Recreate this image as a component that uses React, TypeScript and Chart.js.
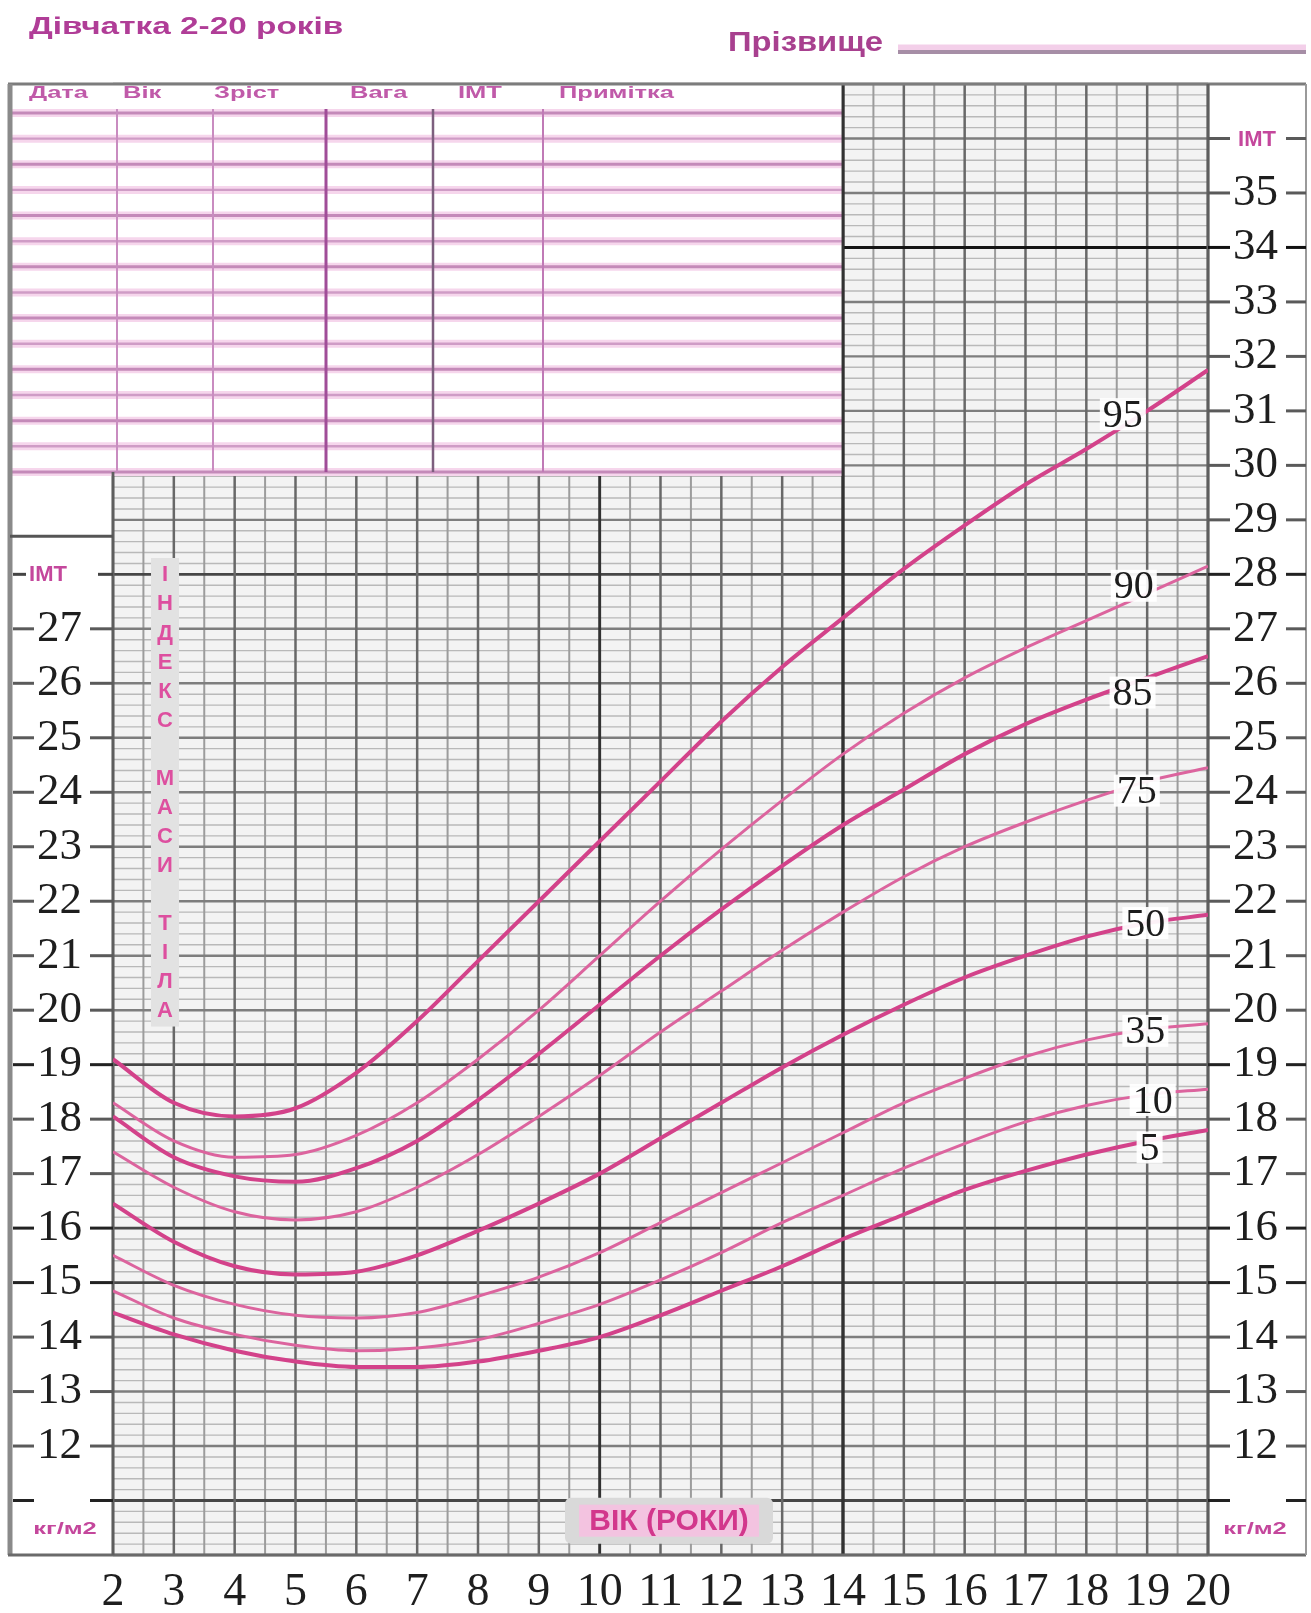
import React, { useEffect, useRef } from 'react';
import { Chart, registerables } from 'chart.js';

Chart.register(...registerables);

// ---------- data ----------
const AGES = [2, 3, 4, 5, 6, 7, 8, 9, 10, 11, 12, 13, 14, 15, 16, 17, 18, 19, 20];
const P95 = [19.1, 18.3, 18.05, 18.2, 18.85, 19.8, 20.9, 22.0, 23.1, 24.2, 25.3, 26.3, 27.2, 28.1, 28.9, 29.65, 30.3, 31.0, 31.75];
const P90 = [18.3, 17.6, 17.3, 17.35, 17.7, 18.3, 19.1, 20.0, 21.0, 22.0, 22.95, 23.85, 24.7, 25.45, 26.1, 26.65, 27.15, 27.65, 28.15];
const P85 = [18.05, 17.3, 16.95, 16.85, 17.1, 17.6, 18.35, 19.2, 20.1, 21.0, 21.85, 22.65, 23.4, 24.05, 24.7, 25.25, 25.7, 26.1, 26.5];
const P75 = [17.4, 16.75, 16.3, 16.15, 16.3, 16.75, 17.35, 18.05, 18.8, 19.6, 20.35, 21.1, 21.8, 22.45, 23.0, 23.45, 23.85, 24.2, 24.45];
const P50 = [16.45, 15.75, 15.3, 15.15, 15.2, 15.5, 15.95, 16.45, 17.0, 17.65, 18.3, 18.95, 19.55, 20.1, 20.6, 21.0, 21.35, 21.6, 21.75];
const P25 = [15.5, 14.95, 14.6, 14.4, 14.35, 14.45, 14.75, 15.1, 15.55, 16.1, 16.65, 17.2, 17.75, 18.3, 18.75, 19.15, 19.45, 19.65, 19.75];
const P10 = [14.85, 14.35, 14.05, 13.85, 13.75, 13.8, 13.95, 14.25, 14.6, 15.05, 15.55, 16.1, 16.6, 17.1, 17.55, 17.95, 18.25, 18.45, 18.55];
const P5 = [14.45, 14.05, 13.75, 13.55, 13.45, 13.45, 13.55, 13.75, 14.0, 14.4, 14.85, 15.3, 15.8, 16.25, 16.7, 17.05, 17.35, 17.6, 17.8];

const CURVE_NAMES = ['95', '90', '85', '75', '50', '35', '10', '5'];
const CURVE_VALUES = [P95, P90, P85, P75, P50, P25, P10, P5];
const CURVE_THICK = [true, false, true, false, true, false, false, true];
const LABEL_AGES = [18.6, 18.78, 18.76, 18.83, 18.97, 18.97, 19.09, 19.04];
const LABEL_BMI = [30.94, 27.79, 25.83, 24.03, 21.6, 19.62, 18.35, 17.48];

const AGE_TICKS = [2, 3, 4, 5, 6, 7, 8, 9, 10, 11, 12, 13, 14, 15, 16, 17, 18, 19, 20];
const LEFT_TICKS = [12, 13, 14, 15, 16, 17, 18, 19, 20, 21, 22, 23, 24, 25, 26, 27];
const RIGHT_TICKS = [12, 13, 14, 15, 16, 17, 18, 19, 20, 21, 22, 23, 24, 25, 26, 27, 28, 29, 30, 31, 32, 33, 34, 35];
const DARK_ROWS = [11, 15, 16, 19, 28];

const TITLE = 'Дівчатка 2-20 років';
const SURNAME = 'Прізвище';
const TABLE_HEADERS = ['Дата', 'Вік', 'Зріст', 'Вага', 'ІМТ', 'Примітка'];
const SIDE_TEXT = 'ІНДЕКС МАСИ ТІЛА';
const AXIS_TITLE = 'ВІК (РОКИ)';
const UNIT = 'кг/м2';
const BMI_LABEL = 'ІМТ';

// ---------- layout constants ----------
const W = 1311;
const H = 1613;
const FORM_LEFT = 10;
const FORM_RIGHT = 1306;
const TABLE_BOTTOM_BMI = 29.88;
const LEFT_PANEL_TOP_BMI = 28.7;
const TABLE_COLS = [117, 213, 326, 433, 543];
const TABLE_HEAD_X = [29, 123, 214, 350, 458, 559];
const SANS = '"Liberation Sans", Arial, sans-serif';
const SERIF = '"Liberation Serif", "Times New Roman", serif';
const PINK_TEXT = '#c4479c';

function stretchText(ctx: CanvasRenderingContext2D, text: string, x: number, y: number, font: string, color: string, sx: number, align: CanvasTextAlign = 'left') {
  ctx.save();
  ctx.font = font;
  ctx.fillStyle = color;
  ctx.textBaseline = 'middle';
  ctx.textAlign = align;
  ctx.translate(x, y);
  ctx.scale(sx, 1);
  ctx.fillText(text, 0, 0);
  ctx.restore();
}

function line(ctx: CanvasRenderingContext2D, x0: number, y0: number, x1: number, y1: number, color: string, w: number) {
  ctx.strokeStyle = color;
  ctx.lineWidth = w;
  ctx.beginPath();
  ctx.moveTo(x0, y0);
  ctx.lineTo(x1, y1);
  ctx.stroke();
}

function drawPaper(chart: any) {
  const ctx: CanvasRenderingContext2D = chart.ctx;
  const xs = chart.scales.x;
  const ys = chart.scales.y;
  const { left, right, top, bottom } = chart.chartArea;
  const X = (v: number) => xs.getPixelForValue(v);
  const Y = (v: number) => ys.getPixelForValue(v);
  ctx.save();
  ctx.lineCap = 'butt';
  ctx.fillStyle = '#f3f3f3';
  ctx.fillRect(left, top, right - left, bottom - top);
  // minor horizontal lines every 0.2
  for (let i = 0; i <= 135; i++) {
    if (i % 5 !== 0) {
      const y = Y(10 + i * 0.2);
      line(ctx, left, y, right, y, '#b9b9b9', 1.4);
    }
  }
  // half-year verticals
  for (let i = 1; i < 36; i += 2) {
    const x = X(2 + i * 0.5);
    line(ctx, x, top, x, bottom, '#9c9c9c', 2);
  }
  // major horizontals
  for (let b = 10; b <= 37; b++) {
    const dark = DARK_ROWS.includes(b);
    const y = Y(b);
    line(ctx, left, y, right, y, dark ? '#474747' : '#7e7e7e', dark ? 2.8 : 2.4);
  }
  // major verticals
  for (let a = 2; a <= 20; a++) {
    const dark = a === 10 || a === 14;
    const x = X(a);
    line(ctx, x, top, x, bottom, dark ? '#323232' : '#686868', dark ? 2.9 : 2.5);
  }
  // black line at 34 on the right block
  line(ctx, X(14), Y(34), right, Y(34), '#151515', 3);

  // ----- table -----
  const tL = FORM_LEFT;
  const tR = X(14);
  const tT = top;
  const tB = Y(TABLE_BOTTOM_BMI);
  ctx.fillStyle = '#ffffff';
  ctx.fillRect(tL, tT, tR - tL, tB - tT);
  const headY = tT + 29;
  const rows = 14;
  const step = (tB - headY) / rows;
  for (let r = 0; r <= rows; r++) {
    const y = headY + r * step;
    line(ctx, tL, y, tR, y, '#f6d6ec', 8);
    line(ctx, tL, y, tR, y, r % 2 === 0 ? '#c48ab9' : '#cf9cc6', r % 2 === 0 ? 3 : 2.4);
  }
  const colColors = ['#c98cc0', '#c98cc0', '#a04d98', '#7d5f7e', '#c07ab6'];
  const colW = [2, 2, 3, 2.5, 2];
  TABLE_COLS.forEach((cx, i) => line(ctx, cx, headY - 4, cx, tB, colColors[i], colW[i]));
  TABLE_HEADERS.forEach((t, i) => stretchText(ctx, t, TABLE_HEAD_X[i], tT + 9, `bold 17px ${SANS}`, '#c05aa9', 1.5));
  line(ctx, tR, top, tR, bottom, '#323232', 2.9);

  // ----- frame -----
  line(ctx, FORM_LEFT - 2, top, FORM_RIGHT, top, '#7c7c7c', 3);
  line(ctx, FORM_LEFT, top, FORM_LEFT, bottom, '#8a8a8a', 5);
  line(ctx, FORM_LEFT - 2, bottom, FORM_RIGHT, bottom, '#6a6a6a', 3);
  line(ctx, FORM_RIGHT, top, FORM_RIGHT, bottom, '#9a9a9a', 2);
  line(ctx, left, tB, left, bottom, '#5e5e5e', 2.8);
  line(ctx, right, top, right, bottom, '#5e5e5e', 3);
  line(ctx, FORM_LEFT, Y(LEFT_PANEL_TOP_BMI), left, Y(LEFT_PANEL_TOP_BMI), '#555555', 3);

  // ----- vertical side text -----
  const sx = X(2.855);
  ctx.fillStyle = '#e2e2e2';
  ctx.fillRect(sx - 14, Y(28.3), 28, Y(19.7) - Y(28.3));
  ctx.font = `bold 22px ${SANS}`;
  ctx.textAlign = 'center';
  ctx.textBaseline = 'middle';
  ctx.fillStyle = '#dd4f9f';
  for (let i = 0; i < SIDE_TEXT.length; i++) {
    const ch = SIDE_TEXT[i];
    if (ch !== ' ') ctx.fillText(ch, sx, Y(28 - (i * 8) / 15) + 1);
  }
  ctx.restore();
}

function drawOverlay(chart: any) {
  const ctx: CanvasRenderingContext2D = chart.ctx;
  const xs = chart.scales.x;
  const ys = chart.scales.y;
  const { left, right, bottom } = chart.chartArea;
  const X = (v: number) => xs.getPixelForValue(v);
  const Y = (v: number) => ys.getPixelForValue(v);
  ctx.save();

  // curve labels
  ctx.font = `40px ${SERIF}`;
  ctx.textAlign = 'center';
  ctx.textBaseline = 'middle';
  CURVE_NAMES.forEach((name, i) => {
    const x = X(LABEL_AGES[i]);
    const y = Y(LABEL_BMI[i]);
    const w = ctx.measureText(name).width;
    ctx.fillStyle = 'rgba(255,255,255,0.93)';
    ctx.fillRect(x - w / 2 - 3, y - 16, w + 6, 32);
    ctx.fillStyle = '#1c1c1c';
    ctx.fillText(name, x, y + 2);
  });

  // age axis title box
  const bx = X(11.14);
  const by = Y(10.63);
  ctx.fillStyle = '#d9d9d9';
  ctx.beginPath();
  (ctx as any).roundRect(bx - 104, by - 23, 208, 46, 6);
  ctx.fill();
  ctx.fillStyle = '#f3c3e0';
  ctx.fillRect(bx - 90, by - 16, 180, 32);
  ctx.font = `bold 30px ${SANS}`;
  ctx.fillStyle = '#d2378c';
  ctx.fillText(AXIS_TITLE, bx, by + 1);

  // tick dashes, left
  ctx.lineCap = 'butt';
  const leftRows = [11, ...LEFT_TICKS];
  leftRows.forEach((b) => {
    const y = Y(b);
    const c = DARK_ROWS.includes(b) ? '#222' : '#5a5a5a';
    line(ctx, FORM_LEFT + 3, y, FORM_LEFT + 24, y, c, 3);
    line(ctx, FORM_LEFT + 80, y, left, y, c, 3);
  });
  line(ctx, FORM_LEFT + 3, Y(28), FORM_LEFT + 16, Y(28), '#444', 3);
  line(ctx, FORM_LEFT + 88, Y(28), left, Y(28), '#444', 3);
  // tick dashes, right
  const rightRows = [11, ...RIGHT_TICKS, 36];
  rightRows.forEach((b) => {
    const y = Y(b);
    const c = b === 34 ? '#111' : DARK_ROWS.includes(b) ? '#222' : '#5a5a5a';
    line(ctx, right, y, right + 22, y, c, 3);
    line(ctx, right + 78, y, FORM_RIGHT, y, c, 3);
  });

  // ІМТ labels
  ctx.font = `bold 22px ${SANS}`;
  ctx.fillStyle = PINK_TEXT;
  ctx.fillText(BMI_LABEL, FORM_LEFT + 38, Y(28) + 1);
  ctx.fillText(BMI_LABEL, right + 49, Y(36) + 1);

  // units
  stretchText(ctx, UNIT, FORM_LEFT + 55, (Y(11) + bottom) / 2 + 2, `bold 17px ${SANS}`, PINK_TEXT, 1.5, 'center');
  stretchText(ctx, UNIT, right + 47, (Y(11) + bottom) / 2 + 2, `bold 17px ${SANS}`, PINK_TEXT, 1.5, 'center');

  // title and surname line
  stretchText(ctx, TITLE, 29, 28, `bold 23px ${SANS}`, '#b03d97', 1.45);
  stretchText(ctx, SURNAME, 728, 43, `bold 28px ${SANS}`, '#a8408f', 1.17);
  line(ctx, 898, 48, FORM_RIGHT, 48, '#f3cfe9', 7);
  line(ctx, 898, 52, FORM_RIGHT, 52, '#a68ea6', 4);

  ctx.restore();
}

const paperPlugin = {
  id: 'paper',
  beforeDraw(chart: any) {
    const ctx = chart.ctx;
    ctx.save();
    ctx.fillStyle = '#ffffff';
    ctx.fillRect(0, 0, chart.width, chart.height);
    ctx.restore();
  },
  beforeDatasetsDraw(chart: any) {
    drawPaper(chart);
  },
  afterDatasetsDraw(chart: any) {
    drawOverlay(chart);
  },
};

export default function App() {
  const ref = useRef<HTMLCanvasElement | null>(null);
  useEffect(() => {
    document.body.style.margin = '0';
    document.body.style.background = '#ffffff';
    const canvas = ref.current;
    if (!canvas) return;
    const order = [1, 3, 5, 6, 0, 2, 4, 7];
    const datasets = order.map((i) => ({
      label: CURVE_NAMES[i],
      data: AGES.map((a, k) => ({ x: a, y: CURVE_VALUES[i][k] })),
      borderColor: CURVE_THICK[i] ? '#d3428a' : '#dc649e',
      borderWidth: CURVE_THICK[i] ? 4 : 3,
      pointRadius: 0,
      fill: false,
      cubicInterpolationMode: 'monotone' as const,
      yAxisID: 'y',
      xAxisID: 'x',
    }));
    const numFont = { family: SERIF, size: 45 };
    const chart = new Chart(canvas, {
      type: 'line',
      data: { datasets },
      options: {
        responsive: false,
        maintainAspectRatio: false,
        devicePixelRatio: 1,
        animation: false,
        events: [],
        layout: { padding: { left: FORM_LEFT, right: W - FORM_RIGHT, top: 84, bottom: 0 } },
        plugins: { legend: { display: false }, tooltip: { enabled: false } },
        scales: {
          x: {
            type: 'linear',
            position: 'bottom',
            min: 2,
            max: 20,
            grid: { display: false, drawTicks: false },
            border: { display: false },
            ticks: {
              stepSize: 1,
              autoSkip: false,
              maxRotation: 0,
              padding: 10,
              color: '#1e1e1e',
              font: { family: SERIF, size: 46 },
              callback: (v: any) => (AGE_TICKS.includes(Math.round(v)) ? String(Math.round(v)) : ''),
            },
            afterFit: (s: any) => {
              s.height = 55;
            },
          },
          y: {
            type: 'linear',
            position: 'left',
            min: 10,
            max: 37,
            grid: { display: false, drawTicks: false },
            border: { display: false },
            ticks: {
              stepSize: 1,
              autoSkip: false,
              crossAlign: 'center',
              padding: 31,
              color: '#1e1e1e',
              font: numFont,
              callback: (v: any) => (LEFT_TICKS.includes(Math.round(v)) ? String(Math.round(v)) : ''),
            },
            afterFit: (s: any) => {
              s.width = 103;
            },
          },
          y2: {
            type: 'linear',
            position: 'right',
            min: 10,
            max: 37,
            grid: { display: false, drawTicks: false },
            border: { display: false },
            ticks: {
              stepSize: 1,
              autoSkip: false,
              crossAlign: 'center',
              padding: 25,
              color: '#1e1e1e',
              font: numFont,
              callback: (v: any) => (RIGHT_TICKS.includes(Math.round(v)) ? String(Math.round(v)) : ''),
            },
            afterFit: (s: any) => {
              s.width = 98;
            },
          },
        },
      } as any,
      plugins: [paperPlugin],
    });
    return () => chart.destroy();
  }, []);
  return (
    <div style={{ width: W, height: H, background: '#ffffff' }}>
      <canvas ref={ref} width={W} height={H} style={{ display: 'block', width: W, height: H }} />
    </div>
  );
}
